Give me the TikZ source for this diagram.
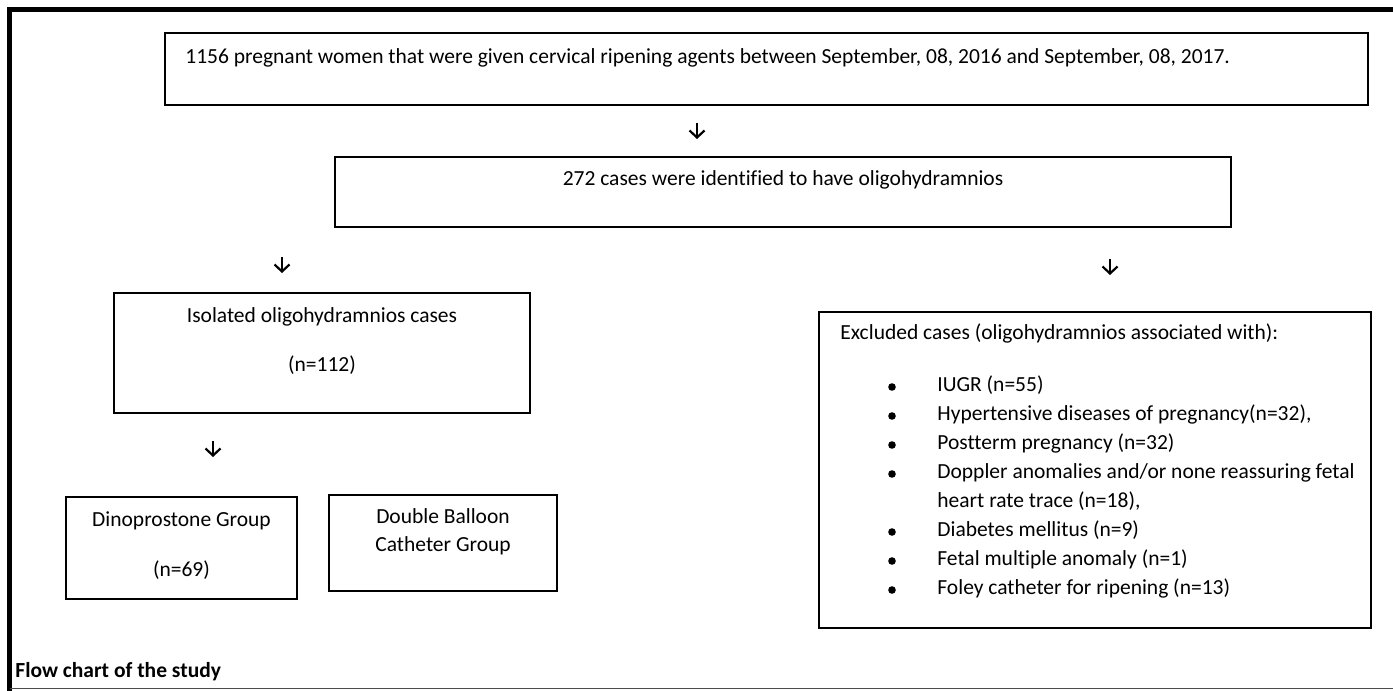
\documentclass[tikz,border=0pt]{standalone}
\usepackage{fontspec}
\setmainfont{Carlito}[Ligatures=NoCommon]
\usetikzlibrary{arrows.meta, fit}

\begin{document}
\begin{tikzpicture}[x=0.5pt, y=-0.5pt,
    every node/.style={font=\fontsize{10.75}{14.5}\selectfont, inner sep=0pt},
    flowbox/.style={draw, line width=1pt, inner sep=0pt, fit={#1}},
    downarrow/.style={line width=1.1pt, -{Straight Barb[length=3.5pt, width=7.5pt, line width=1.1pt]}}]
  \useasboundingbox (0,0) rectangle (1393,691);
  % ---------- FRAME ----------
  \draw[line width=2.5pt] (7,9.5) -- (1393,9.5);
  \draw[line width=2.5pt] (9.5,7) -- (9.5,691);
  \draw[black!70, line width=0.8pt] (9.5,688.5) -- (1393,688.5);
  % ---------- BOXES ----------
  \node[flowbox={(165,33) (1368,105)}] (screened) {};
  \node[flowbox={(335,157) (1231,227)}] (oligo) {};
  \node[flowbox={(114,293) (530,413)}] (isolated) {};
  \node[flowbox={(66,497) (297,599)}] (dino) {};
  \node[flowbox={(329,495) (557,591)}] (balloon) {};
  \node[flowbox={(819,312) (1371,628)}] (excluded) {};
  % ---------- TEXTS ----------
  \node[anchor=mid west] (screenedtxt) at (185,59) {1156 pregnant women that were given cervical ripening agents between September, 08, 2016 and September, 08, 2017.};
  \node[anchor=mid] (oligotxt) at (783,181) {272 cases were identified to have oligohydramnios};
  \node[anchor=mid] (isolatedtxt) at (322,318) {Isolated oligohydramnios cases};
  \node[anchor=mid] (isolatedn) at (322,367) {(n=112)};
  \node[anchor=mid] (dinotxt) at (181.5,522) {Dinoprostone Group};
  \node[anchor=mid] (dinon) at (181.5,572) {(n=69)};
  \node[anchor=mid] (balloontxt) at (443,519) {Double Balloon};
  \node[anchor=mid] (balloontxtb) at (443,547) {Catheter Group};
  \node[anchor=mid west] (excludedtxt) at (840,335) {Excluded cases (oligohydramnios associated with):};
  \foreach \y/\txt [count=\i] in {387/{IUGR (n=55)},
      416/{Hypertensive diseases of pregnancy(n=32),},
      445/{Postterm pregnancy (n=32)},
      474/{Doppler anomalies and/or none reassuring fetal},
      503/{heart rate trace (n=18),},
      532/{Diabetes mellitus (n=9)},
      561/{Fetal multiple anomaly (n=1)},
      590/{Foley catheter for ripening (n=13)}}
    \node[anchor=mid west] (item\i) at (937,\y) {\txt};
  \foreach \y in {387,416,445,474,532,561,590} \fill (892,\y) circle (1.9pt);
  \node[anchor=mid west, font=\fontsize{10.75}{14.5}\selectfont\bfseries] (caption) at (15,673) {Flow chart of the study};
  % ---------- ARROWS ----------
  \coordinate (a1s) at (697,123); \coordinate (a1e) at (697,139);
  \coordinate (a2s) at (282,257); \coordinate (a2e) at (282,273);
  \coordinate (a3s) at (1110,259); \coordinate (a3e) at (1110,275);
  \coordinate (a4s) at (213,441); \coordinate (a4e) at (213,457);
  \foreach \s/\e in {a1s/a1e, a2s/a2e, a3s/a3e, a4s/a4e} \draw[downarrow] (\s) -- (\e);
\end{tikzpicture}
\end{document}
